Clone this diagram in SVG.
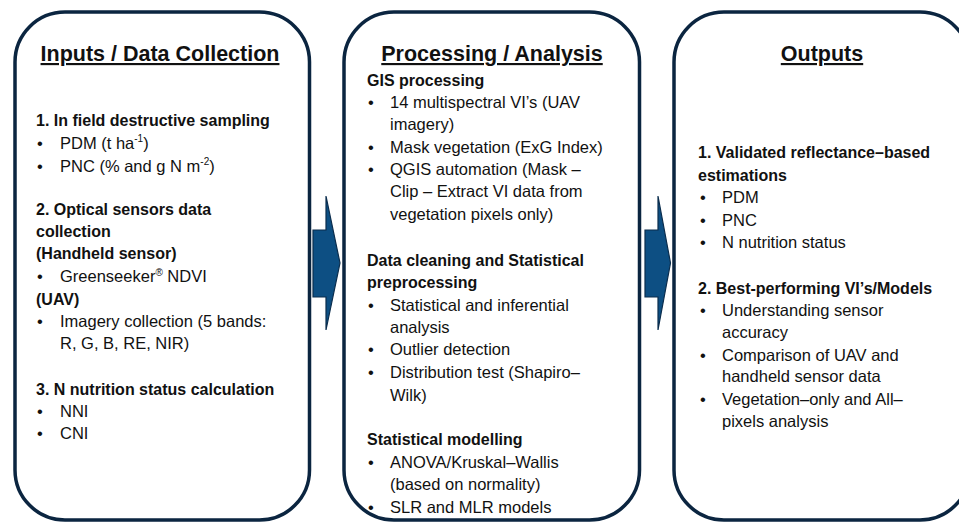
<svg xmlns="http://www.w3.org/2000/svg" width="959" height="524" viewBox="0 0 959 524">
  <style>
    .box { fill: #ffffff; stroke: #0b2540; stroke-width: 3.5; }
    .arrow { fill: #0d4f83; stroke: #0b2d4d; stroke-width: 1.2; stroke-linejoin: miter; }
    text { font-family: "Liberation Sans", Arial, sans-serif; fill: #111111; }
    .title { font-size: 21.5px; font-weight: bold; text-anchor: middle; text-decoration: underline; }
    .h { font-size: 16px; font-weight: bold; }
    .t { font-size: 16.5px; }
    .sup { font-size: 10px; }
  </style>

  <!-- column 1 -->
  <g id="inputs">
    <rect class="box" x="15" y="12" width="294.5" height="508" rx="50" ry="50"/>
    <text class="title" x="160" y="61">Inputs / Data Collection</text>
    <text class="h" x="36" y="126">1. In field destructive sampling</text>
    <text class="t" x="37" y="149">•</text>
    <text class="t" x="60" y="149">PDM (t ha<tspan class="sup" dy="-7">-1</tspan><tspan dy="7">)</tspan></text>
    <text class="t" x="37" y="171.5">•</text>
    <text class="t" x="60" y="171.5">PNC (% and g N m<tspan class="sup" dy="-7">-2</tspan><tspan dy="7">)</tspan></text>
    <text class="h" x="36" y="215">2. Optical sensors data</text>
    <text class="h" x="36" y="237">collection</text>
    <text class="h" x="36" y="259">(Handheld sensor)</text>
    <text class="t" x="37" y="281.5">•</text>
    <text class="t" x="60" y="281.5">Greenseeker<tspan class="sup" dy="-6">®</tspan><tspan dy="6"> NDVI</tspan></text>
    <text class="h" x="36" y="304.5">(UAV)</text>
    <text class="t" x="37" y="327">•</text>
    <text class="t" x="60" y="327">Imagery collection (5 bands:</text>
    <text class="t" x="60" y="349">R, G, B, RE, NIR)</text>
    <text class="h" x="36" y="395">3. N nutrition status calculation</text>
    <text class="t" x="37" y="417">•</text>
    <text class="t" x="60" y="417">NNI</text>
    <text class="t" x="37" y="439">•</text>
    <text class="t" x="60" y="439">CNI</text>
  </g>

  <!-- column 2 -->
  <g id="processing">
    <rect class="box" x="344" y="12" width="295.5" height="508" rx="50" ry="50"/>
    <text class="title" x="492" y="61">Processing / Analysis</text>
    <text class="h" x="367" y="86">GIS processing</text>
    <text class="t" x="368" y="108">•</text>
    <text class="t" x="390" y="108">14 multispectral VI’s (UAV</text>
    <text class="t" x="390" y="130">imagery)</text>
    <text class="t" x="368" y="152.5">•</text>
    <text class="t" x="390" y="152.5">Mask vegetation (ExG Index)</text>
    <text class="t" x="368" y="175">•</text>
    <text class="t" x="390" y="175">QGIS automation (Mask –</text>
    <text class="t" x="390" y="197">Clip – Extract VI data from</text>
    <text class="t" x="390" y="219.5">vegetation pixels only)</text>
    <text class="h" x="367" y="266">Data cleaning and Statistical</text>
    <text class="h" x="367" y="288">preprocessing</text>
    <text class="t" x="368" y="310.5">•</text>
    <text class="t" x="390" y="310.5">Statistical and inferential</text>
    <text class="t" x="390" y="333">analysis</text>
    <text class="t" x="368" y="355">•</text>
    <text class="t" x="390" y="355">Outlier detection</text>
    <text class="t" x="368" y="378">•</text>
    <text class="t" x="390" y="378">Distribution test (Shapiro–</text>
    <text class="t" x="390" y="400.5">Wilk)</text>
    <text class="h" x="367" y="445">Statistical modelling</text>
    <text class="t" x="368" y="467.5">•</text>
    <text class="t" x="390" y="467.5">ANOVA/Kruskal–Wallis</text>
    <text class="t" x="390" y="490">(based on normality)</text>
    <text class="t" x="368" y="512.5">•</text>
    <text class="t" x="390" y="512.5">SLR and MLR models</text>
  </g>

  <!-- column 3 -->
  <g id="outputs">
    <rect class="box" x="674" y="12" width="296" height="508" rx="50" ry="50"/>
    <text class="title" x="822" y="61">Outputs</text>
    <text class="h" x="698" y="158">1. Validated reflectance–based</text>
    <text class="h" x="698" y="180.5">estimations</text>
    <text class="t" x="700" y="203">•</text>
    <text class="t" x="722" y="203">PDM</text>
    <text class="t" x="700" y="225.5">•</text>
    <text class="t" x="722" y="225.5">PNC</text>
    <text class="t" x="700" y="248">•</text>
    <text class="t" x="722" y="248">N nutrition status</text>
    <text class="h" x="698" y="293.5">2. Best-performing VI’s/Models</text>
    <text class="t" x="700" y="316">•</text>
    <text class="t" x="722" y="316">Understanding sensor</text>
    <text class="t" x="722" y="338">accuracy</text>
    <text class="t" x="700" y="360.5">•</text>
    <text class="t" x="722" y="360.5">Comparison of UAV and</text>
    <text class="t" x="722" y="382">handheld sensor data</text>
    <text class="t" x="700" y="405">•</text>
    <text class="t" x="722" y="405">Vegetation–only and All–</text>
    <text class="t" x="722" y="427">pixels analysis</text>
  </g>

  <!-- block arrows between columns -->
  <g id="connectors">
    <polygon class="arrow" points="313,230 326,230 326,196 340,263 326,330 326,297 313,297"/>
    <polygon class="arrow" points="645,230 658,230 658,196 670.5,263 658,330 658,297 645,297"/>
  </g>
</svg>
